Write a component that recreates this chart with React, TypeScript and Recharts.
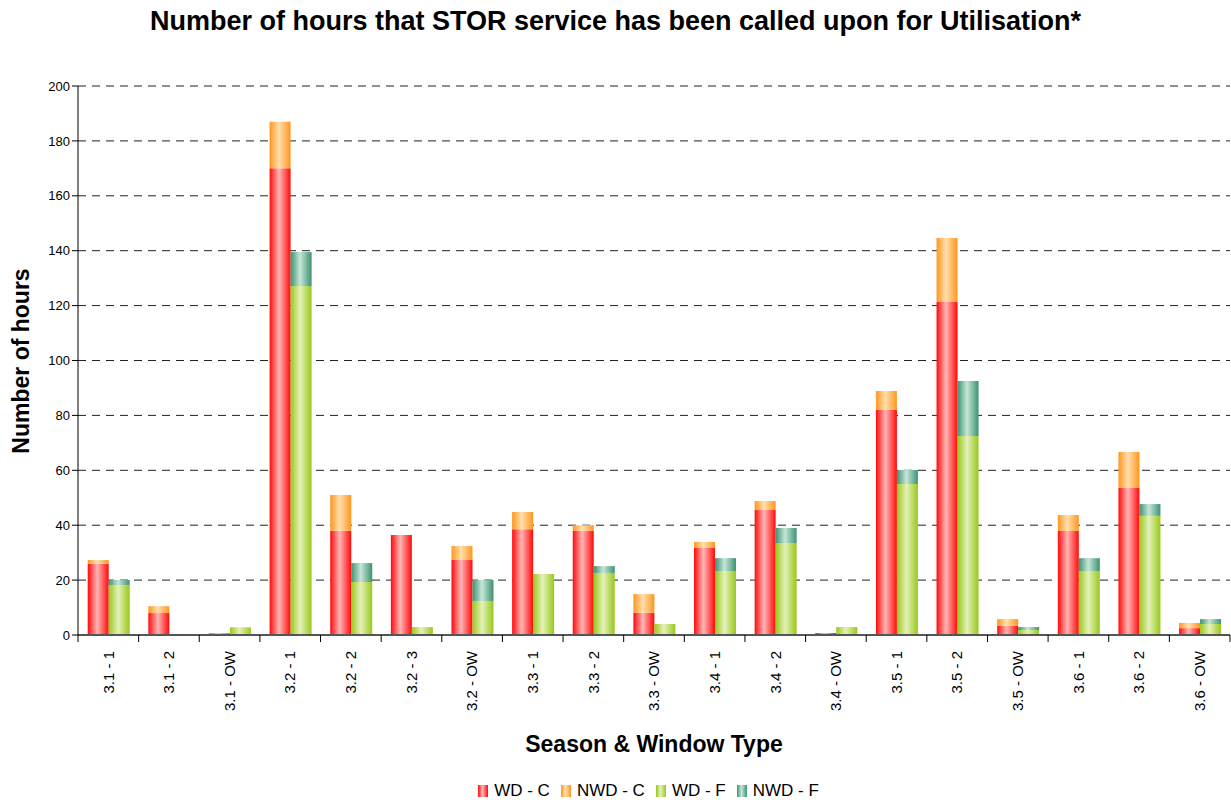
import React from "react";
import { BarChart, Bar, XAxis, YAxis, CartesianGrid, Legend } from "recharts";

const categories = [
  "3.1 - 1", "3.1 - 2", "3.1 - OW",
  "3.2 - 1", "3.2 - 2", "3.2 - 3", "3.2 - OW",
  "3.3 - 1", "3.3 - 2", "3.3 - OW",
  "3.4 - 1", "3.4 - 2", "3.4 - OW",
  "3.5 - 1", "3.5 - 2", "3.5 - OW",
  "3.6 - 1", "3.6 - 2", "3.6 - OW",
];
const wdC = [26, 8, 0.6, 170, 38, 36.4, 27.3, 38.5, 38, 8.1, 31.7, 45.5, 0.7, 82, 121.3, 3.3, 37.9, 53.6, 2.5];
const nwdC = [1.3, 2.5, 0, 17, 13, 0, 5.1, 6.3, 2, 6.8, 2.2, 3.3, 0, 6.9, 23.3, 2.5, 5.8, 13.1, 1.9];
const wdF = [18.2, 0, 2.8, 127.1, 19.3, 2.9, 12.4, 22.2, 22.6, 4.0, 23.3, 33.5, 2.9, 55, 72.5, 1.8, 23.3, 43.4, 4.0];
const nwdF = [1.8, 0, 0, 12.4, 6.9, 0, 7.6, 0, 2.5, 0, 4.7, 5.5, 0, 5.1, 20, 1.1, 4.7, 4.3, 1.8];
const yTicks = [0, 20, 40, 60, 80, 100, 120, 140, 160, 180, 200];

const SERIES = [
  { key: "wdC", name: "WD - C", stack: "C", edge: "#ff0a0a", mid: "#ffb6b6" },
  { key: "nwdC", name: "NWD - C", stack: "C", edge: "#ff961e", mid: "#ffdfae" },
  { key: "wdF", name: "WD - F", stack: "F", edge: "#98c91a", mid: "#e4f1ba" },
  { key: "nwdF", name: "NWD - F", stack: "F", edge: "#3a9470", mid: "#c8e5d8" },
];

const data = categories.map((c, i) => ({
  name: c,
  wdC: wdC[i],
  nwdC: nwdC[i],
  wdF: wdF[i],
  nwdF: nwdF[i],
}));

const W = 1231;
const H = 800;
const PLOT_LEFT = 78;
const PLOT_RIGHT = 1230;
const STEP = (PLOT_RIGHT - PLOT_LEFT) / categories.length;
const FONT = "Arial, 'Liberation Sans', sans-serif";

function CategoryTick(props: any) {
  const { x, y, payload, index } = props;
  const axisY = y - 8;
  const last = index === categories.length - 1;
  return (
    <g>
      <line x1={x - STEP / 2} y1={axisY} x2={x - STEP / 2} y2={axisY + 7} stroke="#000" />
      {last && <line x1={x + STEP / 2} y1={axisY} x2={x + STEP / 2} y2={axisY + 7} stroke="#000" />}
      <text
        transform={`translate(${x},${axisY + 16}) rotate(-90)`}
        textAnchor="end"
        dy="0.35em"
        fontSize={15}
        fontFamily={FONT}
        fill="#000"
      >
        {payload.value}
      </text>
    </g>
  );
}

function LegendContent() {
  return (
    <div style={{ display: "flex", justifyContent: "center", fontFamily: FONT, fontSize: 17, color: "#000" }}>
      {SERIES.map((s) => (
        <span key={s.key} style={{ display: "inline-flex", alignItems: "center", marginRight: 11 }}>
          <span
            style={{
              display: "inline-block",
              width: 10,
              height: 12,
              marginRight: 6,
              background: `linear-gradient(to right, ${s.edge}, ${s.mid} 45%, ${s.edge})`,
            }}
          />
          {s.name}
        </span>
      ))}
    </div>
  );
}

export default function App() {
  return (
    <div style={{ position: "relative", width: W, height: H, background: "#fff", fontFamily: FONT }}>
      <style>{`body{margin:0}`}</style>
      <div
        style={{
          position: "absolute",
          top: 6,
          left: 0,
          width: W,
          textAlign: "center",
          fontWeight: "bold",
          fontSize: 27,
        }}
      >
        Number of hours that STOR service has been called upon for Utilisation*
      </div>
      <div
        style={{
          position: "absolute",
          left: 21,
          top: 361,
          transform: "translate(-50%, -50%) rotate(-90deg)",
          fontWeight: "bold",
          fontSize: 23,
          whiteSpace: "nowrap",
        }}
      >
        Number of hours
      </div>
      <div
        style={{
          position: "absolute",
          top: 731,
          left: PLOT_LEFT,
          width: PLOT_RIGHT - PLOT_LEFT,
          textAlign: "center",
          fontWeight: "bold",
          fontSize: 23,
        }}
      >
        Season &amp; Window Type
      </div>
      <BarChart
        width={W}
        height={H}
        data={data}
        margin={{ top: 86, right: W - PLOT_RIGHT, bottom: 95, left: 0 }}
        barCategoryGap="16%"
        barGap={0}
      >
        <defs>
          {SERIES.map((s) => (
            <linearGradient key={s.key} id={`grad-${s.key}`} x1="0" y1="0" x2="1" y2="0">
              <stop offset="0%" stopColor={s.edge} />
              <stop offset="45%" stopColor={s.mid} />
              <stop offset="100%" stopColor={s.edge} />
            </linearGradient>
          ))}
        </defs>
        <CartesianGrid vertical={false} stroke="#222" strokeDasharray="8 6" />
        <XAxis
          dataKey="name"
          height={70}
          interval={0}
          tickLine={false}
          axisLine={{ stroke: "#555", strokeWidth: 2 }}
          tick={<CategoryTick />}
        />
        <YAxis
          width={PLOT_LEFT}
          domain={[0, 200]}
          ticks={yTicks}
          interval={0}
          tickSize={6}
          axisLine={{ stroke: "#000" }}
          tickLine={{ stroke: "#000" }}
          tick={{ fill: "#000", fontSize: 13, fontFamily: FONT }}
        />
        {SERIES.map((s) => (
          <Bar
            key={s.key}
            dataKey={s.key}
            name={s.name}
            stackId={s.stack}
            fill={`url(#grad-${s.key})`}
            isAnimationActive={false}
          />
        ))}
        <Legend
          verticalAlign="middle"
          content={<LegendContent />}
          wrapperStyle={{ top: 781, left: PLOT_LEFT, width: PLOT_RIGHT - PLOT_LEFT }}
        />
      </BarChart>
    </div>
  );
}
